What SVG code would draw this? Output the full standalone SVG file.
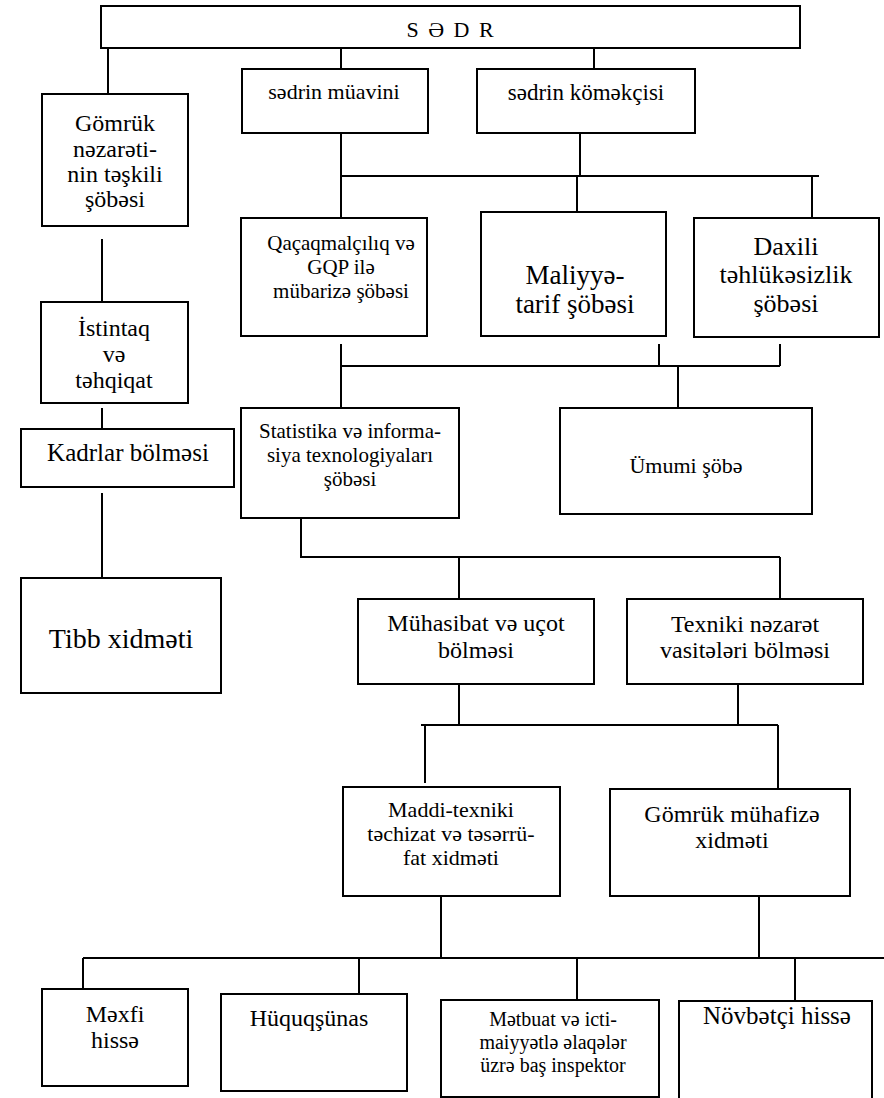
<svg xmlns="http://www.w3.org/2000/svg" width="884" height="1098" viewBox="0 0 884 1098">
<style>
.box{fill:#fff;stroke:#000;stroke-width:2}
.ln{fill:none;stroke:#000;stroke-width:2}
text{font-family:"Liberation Serif","Times New Roman",serif;fill:#000;text-anchor:middle}
</style>
<rect width="884" height="1098" fill="#fff"/>
<g id="connectors">
<path class="ln" d="M108 48V94M341 48V69M594 48V69M341 133V218M580 133V176M341 176H819M577 176V218M812 176V218"/>
<path class="ln" d="M102 239V302M102 408V429M102 493V578"/>
<path class="ln" d="M341 344V408M341 366H780M659 344V366M780 344V366M678 366V408"/>
<path class="ln" d="M301 514V557H780M459 557V599M780 557V599"/>
<path class="ln" d="M459 684V725M738 684V725M421 725H778M425 725V783M778 725V789"/>
<path class="ln" d="M441 896V958M759 896V958M83 958H884M83 958V994M359 958V1001M577 958V1000M795 958V1001"/>
</g>
<g id="sedr"><rect class="box" x="101" y="6" width="699" height="42"/><text x="451" y="37" font-size="22" letter-spacing="2">S Ə D R</text></g>
<g id="muavini"><rect class="box" x="242" y="69" width="186" height="64"/><text x="334" y="99" font-size="22">sədrin müavini</text></g>
<g id="komekci"><rect class="box" x="477" y="69" width="218" height="64"/><text x="586" y="100" font-size="23">sədrin köməkçisi</text></g>
<g id="gomruk-nezaret"><rect class="box" x="42" y="94" width="146" height="132"/><text font-size="24"><tspan x="115" y="131">Gömrük</tspan><tspan x="115" y="157">nəzarəti-</tspan><tspan x="115" y="182">nin təşkili</tspan><tspan x="115" y="207">şöbəsi</tspan></text></g>
<g id="qacaq"><rect class="box" x="241" y="218" width="186" height="118"/><text font-size="21"><tspan x="341" y="250">Qaçaqmalçılıq və</tspan><tspan x="341" y="274">GQP ilə</tspan><tspan x="341" y="298">mübarizə şöbəsi</tspan></text></g>
<g id="maliyye"><rect class="box" x="481" y="212" width="185" height="124"/><text font-size="27"><tspan x="575" y="284">Maliyyə-</tspan><tspan x="575" y="313">tarif şöbəsi</tspan></text></g>
<g id="daxili"><rect class="box" x="694" y="218" width="185" height="119"/><text font-size="26"><tspan x="786" y="255">Daxili</tspan><tspan x="786" y="283">təhlükəsizlik</tspan><tspan x="786" y="312">şöbəsi</tspan></text></g>
<g id="istintaq"><rect class="box" x="41" y="302" width="147" height="101"/><text font-size="24"><tspan x="114" y="336">İstintaq</tspan><tspan x="114" y="362">və</tspan><tspan x="114" y="388">təhqiqat</tspan></text></g>
<g id="kadrlar"><rect class="box" x="21" y="429" width="213" height="58"/><text x="128" y="461" font-size="25">Kadrlar bölməsi</text></g>
<g id="tibb"><rect class="box" x="21" y="578" width="200" height="115"/><text x="121" y="648" font-size="28">Tibb xidməti</text></g>
<g id="statistika"><rect class="box" x="241" y="408" width="218" height="110"/><text font-size="21"><tspan x="350" y="438">Statistika və informa-</tspan><tspan x="350" y="462">siya texnologiyaları</tspan><tspan x="350" y="486">şöbəsi</tspan></text></g>
<g id="umumi"><rect class="box" x="560" y="408" width="252" height="106"/><text x="686" y="473" font-size="22">Ümumi şöbə</text></g>
<g id="muhasibat"><rect class="box" x="358" y="599" width="236" height="85"/><text font-size="24"><tspan x="476" y="631">Mühasibat və uçot</tspan><tspan x="476" y="658">bölməsi</tspan></text></g>
<g id="texniki"><rect class="box" x="627" y="599" width="236" height="85"/><text font-size="24"><tspan x="745" y="632">Texniki nəzarət</tspan><tspan x="745" y="658">vasitələri bölməsi</tspan></text></g>
<g id="maddi"><rect class="box" x="343" y="787" width="217" height="109"/><text font-size="22"><tspan x="451" y="817">Maddi-texniki</tspan><tspan x="451" y="841">təchizat və təsərrü-</tspan><tspan x="451" y="865">fat xidməti</tspan></text></g>
<g id="muhafize"><rect class="box" x="610" y="789" width="240" height="107"/><text font-size="24"><tspan x="732" y="822">Gömrük mühafizə</tspan><tspan x="732" y="848">xidməti</tspan></text></g>
<g id="mexfi"><rect class="box" x="42" y="989" width="146" height="97"/><text font-size="24"><tspan x="115" y="1022">Məxfi</tspan><tspan x="115" y="1048">hissə</tspan></text></g>
<g id="huquq"><rect class="box" x="221" y="994" width="186" height="97"/><text x="309" y="1026" font-size="24">Hüquqşünas</text></g>
<g id="metbuat"><rect class="box" x="441" y="1000" width="218" height="97"/><text font-size="20"><tspan x="553" y="1026">Mətbuat və icti-</tspan><tspan x="553" y="1049">maiyyətlə əlaqələr</tspan><tspan x="553" y="1072">üzrə baş inspektor</tspan></text></g>
<g id="novbetci"><rect class="box" x="679" y="1001" width="193" height="110"/><text x="777" y="1024" font-size="25">Növbətçi hissə</text></g>
</svg>
